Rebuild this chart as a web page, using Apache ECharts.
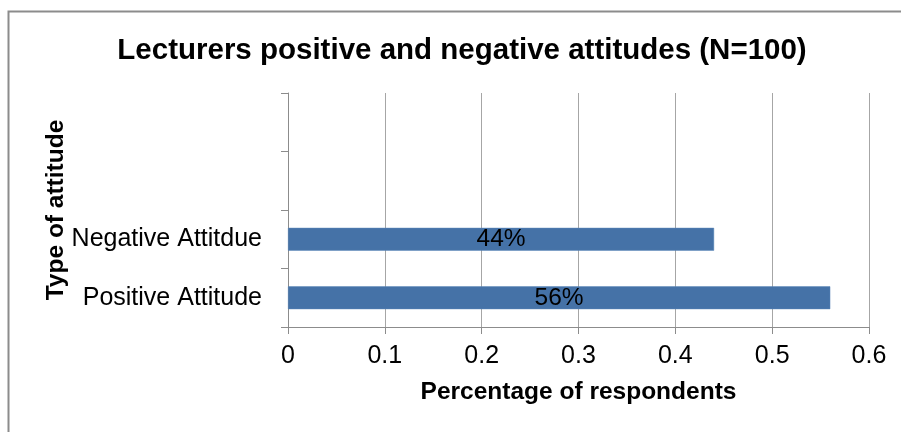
<!DOCTYPE html>
<html>
<head>
<meta charset="utf-8">
<script src="https://cdn.jsdelivr.net/npm/echarts@6/dist/echarts.min.js"></script>
<style>html,body{margin:0;padding:0;background:#fff}#c{width:901px;height:432px}</style>
</head>
<body>
<div id="c"></div>
<script>
var categories = ['Positive Attitude', 'Negative Attitdue', '', ''];
var values = [0.56, 0.44, null, null];
var xTicks = [0, 0.1, 0.2, 0.3, 0.4, 0.5, 0.6];
var titleText = 'Lecturers positive and negative attitudes (N=100)';
var xName = 'Percentage of respondents';
var yName = 'Type of attitude';

var F = '"Liberation Sans", Arial, sans-serif';
var chart = echarts.init(document.getElementById('c'), null, {renderer: 'canvas'});
chart.setOption({
  animation: false,
  backgroundColor: '#fff',
  graphic: [{
    type: 'rect', left: 6, top: 9, shape: {x: 0, y: 0, width: 1000, height: 1000},
    style: {fill: 'none', stroke: '#8c8c8c', lineWidth: 2}, z: -1
  }],
  title: {
    text: titleText, left: 457, top: 31, textAlign: 'center',
    textStyle: {fontFamily: F, fontSize: 29.5, fontWeight: 'bold', color: '#000'}
  },
  grid: {left: 288, right: 32, top: 93, bottom: 105, containLabel: false},
  xAxis: {
    type: 'value', min: xTicks[0], max: xTicks[xTicks.length - 1], interval: 0.1,
    name: xName, nameLocation: 'middle', nameGap: 53, nameMoveOverlap: false,
    nameTextStyle: {fontFamily: F, fontSize: 24.5, fontWeight: 'bold', color: '#000'},
    axisLine: {show: true, lineStyle: {color: '#8c8c8c', width: 1}},
    axisTick: {show: true, length: 7, lineStyle: {color: '#8c8c8c'}},
    axisLabel: {fontFamily: F, fontSize: 25, color: '#000', margin: 17},
    splitLine: {show: true, lineStyle: {color: '#a6a6a6', width: 1}}
  },
  yAxis: {
    type: 'category', data: categories,
    name: yName, nameLocation: 'middle', nameGap: 219, nameRotate: 90, nameMoveOverlap: false,
    nameTextStyle: {fontFamily: F, fontSize: 24.5, fontWeight: 'bold', color: '#000'},
    axisLine: {show: true, lineStyle: {color: '#8c8c8c', width: 1}},
    axisTick: {show: true, length: 7, lineStyle: {color: '#8c8c8c'}},
    axisLabel: {fontFamily: F, fontSize: 25, color: '#000', margin: 26},
    splitLine: {show: false}
  },
  series: [{
    type: 'bar', data: values, barWidth: '39%',
    itemStyle: {color: '#4572A7', borderColor: '#5b86b8', borderWidth: 0.5},
    label: {
      show: true, position: 'inside', fontFamily: F, fontSize: 24.5, color: '#000',
      formatter: function (p) { return Math.round(p.value * 100) + '%'; }
    }
  }]
});
</script>
</body>
</html>
